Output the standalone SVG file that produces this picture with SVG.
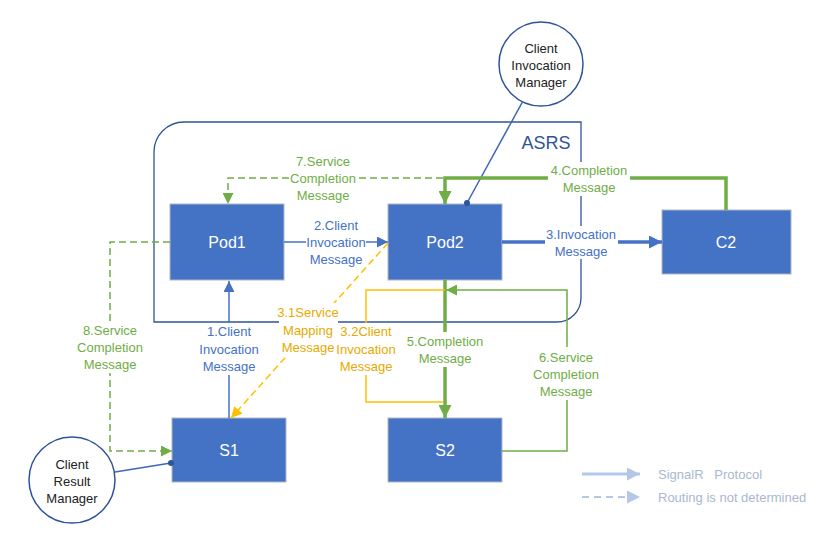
<svg xmlns="http://www.w3.org/2000/svg" width="838" height="550" viewBox="0 0 838 550">
<style>
text{font-family:"Liberation Sans",Arial,sans-serif;font-size:13px;text-anchor:middle}
.node rect{fill:#4472C4;stroke:#B0B8C4;stroke-width:1}
.node text{fill:#fff;font-size:16px}
.circ circle{fill:#fff;stroke:#2F5597;stroke-width:1.5}
.circ text{fill:#222}
.bl{fill:none;stroke:#4472C4;stroke-width:1.5}
.blt{fill:none;stroke:#4472C4;stroke-width:3.5}
.gr{fill:none;stroke:#70AD47;stroke-width:1.5}
.grt{fill:none;stroke:#70AD47;stroke-width:3.5}
.or{fill:none;stroke:#FFC000;stroke-width:1.5}
.dash{stroke-dasharray:7 4}
.lb{fill:#fff}
.tb{fill:#4472C4}
.tg{fill:#70AD47}
.to{fill:#E8A900}
.lg{fill:none;stroke:#B4C7E7;stroke-width:3}
.lgd{fill:none;stroke:#B4C7E7;stroke-width:2;stroke-dasharray:7 5}
.tl{fill:#A9B8D0;text-anchor:start}
</style>
<defs>
<marker id="ab" viewBox="0 0 10 10" refX="10" refY="5" markerUnits="userSpaceOnUse" markerWidth="12" markerHeight="11" orient="auto"><path d="M0,0L10,5L0,10z" fill="#4472C4"/></marker>
<marker id="abt" viewBox="0 0 10 10" refX="10" refY="5" markerUnits="userSpaceOnUse" markerWidth="13" markerHeight="13" orient="auto"><path d="M0,0L10,5L0,10z" fill="#4472C4"/></marker>
<marker id="ag" viewBox="0 0 10 10" refX="10" refY="5" markerUnits="userSpaceOnUse" markerWidth="12" markerHeight="11" orient="auto"><path d="M0,0L10,5L0,10z" fill="#70AD47"/></marker>
<marker id="agt" viewBox="0 0 10 10" refX="10" refY="5" markerUnits="userSpaceOnUse" markerWidth="14" markerHeight="13" orient="auto"><path d="M0,0L10,5L0,10z" fill="#70AD47"/></marker>
<marker id="ao" viewBox="0 0 10 10" refX="10" refY="5" markerUnits="userSpaceOnUse" markerWidth="12" markerHeight="11" orient="auto"><path d="M0,0L10,5L0,10z" fill="#FFC000"/></marker>
<marker id="al" viewBox="0 0 10 10" refX="10" refY="5" markerUnits="userSpaceOnUse" markerWidth="15" markerHeight="13" orient="auto"><path d="M0,0L10,5L0,10z" fill="#B4C7E7"/></marker>
<marker id="dot" viewBox="0 0 6 6" refX="3" refY="3" markerUnits="userSpaceOnUse" markerWidth="6" markerHeight="6"><circle cx="3" cy="3" r="3" fill="#2F5597"/></marker>
</defs>
<rect width="838" height="550" fill="#fff"/>

<g id="asrs">
<path d="M154,152 A30,30 0 0 1 184,122 H581 V298 A24,24 0 0 1 557,322 H154 Z" fill="none" stroke="#2F5597" stroke-width="1.3"/>
<text x="546" y="149" style="font-size:18px;fill:#2F5597">ASRS</text>
</g>

<g id="pod1" class="node"><rect x="170" y="204" width="114" height="76"/><text x="227" y="248">Pod1</text></g>
<g id="pod2" class="node"><rect x="388" y="204" width="114" height="76"/><text x="445" y="248">Pod2</text></g>
<g id="c2" class="node"><rect x="662" y="210" width="129" height="64"/><text x="726" y="248">C2</text></g>
<g id="s1" class="node"><rect x="172" y="418" width="114" height="64"/><text x="229" y="456">S1</text></g>
<g id="s2" class="node"><rect x="388" y="418" width="114" height="64"/><text x="445" y="456">S2</text></g>

<g id="cim" class="circ"><circle cx="541" cy="64" r="42"/>
<text x="541" y="52.5">Client</text><text x="541" y="69.5">Invocation</text><text x="541" y="86.5">Manager</text></g>
<g id="crm" class="circ"><circle cx="72" cy="480" r="43"/>
<text x="72" y="468.5">Client</text><text x="72" y="485.5">Result</text><text x="72" y="502.5">Manager</text></g>

<g id="connectors">
<line x1="522.5" y1="101.8" x2="467" y2="203" stroke="#3D68B8" stroke-width="1.5" marker-end="url(#dot)"/>
<line x1="115" y1="472" x2="171" y2="463" stroke="#3D68B8" stroke-width="1.5" marker-end="url(#dot)"/>
<path class="bl" d="M229,418 V281" marker-end="url(#ab)"/>
<path class="bl" d="M284,242 H388" marker-end="url(#ab)"/>
<path class="blt" d="M502,242 H662" marker-end="url(#abt)"/>
<path class="grt" d="M726,210 V178 H445 V204" marker-end="url(#agt)"/>
<path class="grt" d="M445,280 V418" marker-end="url(#agt)"/>
<path class="gr" d="M502,451 H567 V290 H446" marker-end="url(#ag)"/>
<path class="gr dash" d="M443,178 H228 V204" marker-end="url(#ag)"/>
<path class="gr dash" d="M170,242 H110 V451 H172" marker-end="url(#ag)"/>
<path class="or dash" d="M388,243 L231,418" marker-end="url(#ao)"/>
<path class="or" d="M445,290 H366 V402 H443"/>
</g>

<g id="labels">
<rect class="lb" x="199" y="323" width="60" height="52"/>
<text class="tb" x="229" y="335.5">1.Client</text><text class="tb" x="229" y="353.5">Invocation</text><text class="tb" x="229" y="370.5">Message</text>
<rect class="lb" x="306" y="216" width="60" height="51"/>
<text class="tb" x="336" y="229.5">2.Client</text><text class="tb" x="336" y="246.5">Invocation</text><text class="tb" x="336" y="263.5">Message</text>
<rect class="lb" x="545" y="226" width="73" height="33"/>
<text class="tb" x="581" y="238.5">3.Invocation</text><text class="tb" x="581" y="255.5">Message</text>
<rect class="lb" x="548" y="162" width="82" height="34"/>
<text class="tg" x="589" y="174.5">4.Completion</text><text class="tg" x="589" y="191.5">Message</text>
<rect class="lb" x="406" y="332" width="78" height="35"/>
<text class="tg" x="445" y="345.5">5.Completion</text><text class="tg" x="445" y="362.5">Message</text>
<rect class="lb" x="533" y="347" width="67" height="53"/>
<text class="tg" x="566" y="361.5">6.Service</text><text class="tg" x="566" y="378.5">Completion</text><text class="tg" x="566" y="395.5">Message</text>
<rect class="lb" x="290" y="170" width="66" height="16"/>
<text class="tg" x="323" y="165.5">7.Service</text><text class="tg" x="323" y="182.5">Completion</text><text class="tg" x="323" y="199.5">Message</text>
<rect class="lb" x="77" y="321" width="66" height="52"/>
<text class="tg" x="110" y="334.5">8.Service</text><text class="tg" x="110" y="351.5">Completion</text><text class="tg" x="110" y="368.5">Message</text>
<rect class="lb" x="279" y="303" width="59" height="53"/>
<text class="to" x="308" y="316.5">3.1Service</text><text class="to" x="308" y="334.5">Mapping</text><text class="to" x="308" y="351.5">Message</text>
<rect class="lb" x="336" y="323" width="60" height="52"/>
<text class="to" x="366" y="335.5">3.2Client</text><text class="to" x="366" y="353.5">Invocation</text><text class="to" x="366" y="370.5">Message</text>
</g>

<g id="legend">
<path class="lg" d="M582,474 H640" marker-end="url(#al)"/>
<path class="lgd" d="M582,497 H640" marker-end="url(#al)"/>
<text class="tl" x="658" y="478.5" xml:space="preserve">SignalR   Protocol</text>
<text class="tl" x="658" y="501.5">Routing is not determined</text>
</g>
</svg>
